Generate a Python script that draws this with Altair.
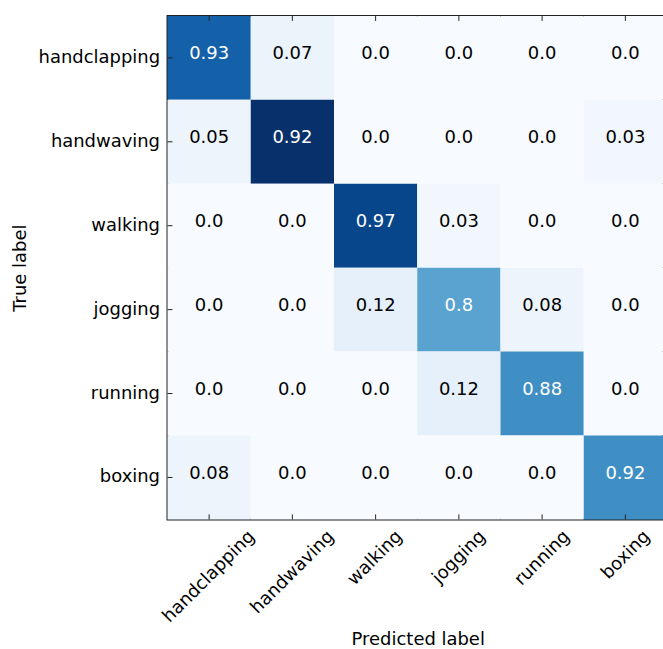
import altair as alt
import pandas as pd

# Class names (rows = true label, columns = predicted label)
classes = ["handclapping", "handwaving", "walking", "jogging", "running", "boxing"]

# Normalised rates printed in the cells
rates_handclapping = [0.93, 0.07, 0.0, 0.0, 0.0, 0.0]
rates_handwaving = [0.05, 0.92, 0.0, 0.0, 0.0, 0.03]
rates_walking = [0.0, 0.0, 0.97, 0.03, 0.0, 0.0]
rates_jogging = [0.0, 0.0, 0.12, 0.8, 0.08, 0.0]
rates_running = [0.0, 0.0, 0.0, 0.12, 0.88, 0.0]
rates_boxing = [0.08, 0.0, 0.0, 0.0, 0.0, 0.92]

# Estimated sample counts behind the cell shading
counts_handclapping = [78, 6, 0, 0, 0, 0]
counts_handwaving = [5, 96, 0, 0, 0, 3]
counts_walking = [0, 0, 88, 3, 0, 0]
counts_jogging = [0, 0, 8, 53, 5, 0]
counts_running = [0, 0, 0, 8, 61, 0]
counts_boxing = [5, 0, 0, 0, 0, 61]

rates = [rates_handclapping, rates_handwaving, rates_walking,
         rates_jogging, rates_running, rates_boxing]
counts = [counts_handclapping, counts_handwaving, counts_walking,
          counts_jogging, counts_running, counts_boxing]

rows = []
for i, t in enumerate(classes):
    for j, p in enumerate(classes):
        rows.append({"true": t, "pred": p, "rate": rates[i][j],
                     "label": str(rates[i][j]), "count": counts[i][j]})
df = pd.DataFrame(rows)
tick_df = pd.DataFrame({"pred": classes, "true": classes})

# matplotlib "Blues" colormap stops
blues = ["#f7fbff", "#deebf7", "#c6dbef", "#9ecae1", "#6baed6",
         "#4292c6", "#2171b5", "#08519c", "#08306b"]
cmax = max(max(r) for r in counts)
stops = [cmax * k / (len(blues) - 1) for k in range(len(blues))]

FONT = "DejaVu Sans"
FS = 18

label_offsets = {"handclapping": 43, "handwaving": 39, "walking": 24,
                 "jogging": 24, "running": 25, "boxing": 22}

x_axis = alt.Axis(
    title="Predicted label", ticks=False, domain=False,
    labelAngle=315, labelAlign="right", labelBaseline="middle",
    labelPadding=14, labelOverlap=False, labelFlush=False, labelBound=False,
    labelOffset={"condition": [{"test": f"datum.value === '{k}'", "value": v}
                               for k, v in label_offsets.items()],
                 "value": 25},
    titleX=251, titleY=125, titleAlign="center", titleBaseline="alphabetic",
)
y_axis = alt.Axis(
    title="True label", ticks=False, domain=False,
    labelPadding=8, labelOverlap=False, labelFlush=False,
    titleX=-147, titleY=252.5, titleAngle=270, titleAlign="center",
    titleBaseline="middle",
)

X = alt.X("pred:N", sort=classes,
          scale=alt.Scale(range=[0, 501], paddingInner=0, paddingOuter=0),
          axis=x_axis)
Y = alt.Y("true:N", sort=classes,
          scale=alt.Scale(paddingInner=0, paddingOuter=0), axis=y_axis)

heat = alt.Chart(df).mark_rect().encode(
    x=X, y=Y,
    color=alt.Color("count:Q",
                    scale=alt.Scale(domain=stops, range=blues, interpolate="rgb"),
                    legend=None),
)

text = alt.Chart(df).mark_text(font=FONT, fontSize=FS, dy=-3.5).encode(
    x=X, y=Y, text="label:N",
    color=alt.condition(alt.datum.rate > 0.5, alt.value("white"), alt.value("black")),
)

top_ticks = alt.Chart(tick_df).mark_rule(color="#222", strokeWidth=1).encode(
    x=X, y=alt.value(0), y2=alt.value(5))
bottom_ticks = alt.Chart(tick_df).mark_rule(color="#222", strokeWidth=1).encode(
    x=X, y=alt.value(505), y2=alt.value(500))
left_ticks = alt.Chart(tick_df).mark_rule(color="#222", strokeWidth=1).encode(
    y=Y, x=alt.value(0), x2=alt.value(5))

chart = alt.layer(heat, text, top_ticks, bottom_ticks, left_ticks).properties(
    width=497, height=505,
    autosize=alt.AutoSizeParams(type="none"),
    padding={"left": 168, "top": 15, "right": 0, "bottom": 129},
    background="white",
).configure_view(
    stroke="#222", strokeWidth=2,
).configure_axis(
    labelFont=FONT, labelFontSize=FS, labelColor="black",
    titleFont=FONT, titleFontSize=FS, titleFontWeight="normal", titleColor="black",
)

chart.save("out.html", embed_options={"renderer": "svg", "actions": False})
